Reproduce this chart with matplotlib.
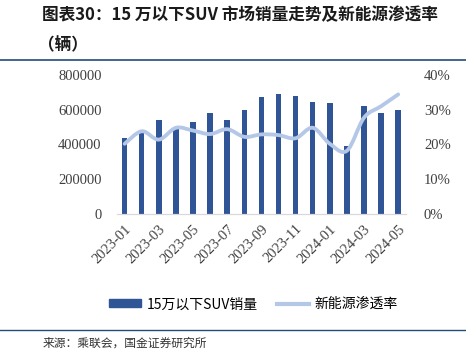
import matplotlib.pyplot as plt
import numpy as np
from matplotlib.path import Path
from matplotlib.patches import PathPatch
from matplotlib.lines import Line2D
from matplotlib.patches import Patch
from matplotlib.ticker import FuncFormatter

plt.rcParams['font.family'] = ['Noto Sans CJK SC', 'DejaVu Sans']

months = ['2023-01', '2023-02', '2023-03', '2023-04', '2023-05', '2023-06',
          '2023-07', '2023-08', '2023-09', '2023-10', '2023-11', '2023-12',
          '2024-01', '2024-02', '2024-03', '2024-04', '2024-05']
suv_sales = [435000, 478000, 541000, 499000, 528000, 583000, 541000, 597000,
             674000, 689000, 681000, 645000, 639000, 393000, 624000, 583000,
             597000]
nev_rate = [20.2, 23.8, 21.4, 24.8, 24.0, 23.0, 24.4, 22.2, 22.9, 22.7,
            21.8, 24.8, 20.2, 18.2, 27.7, 31.0, 34.4]

bar_color = '#2F5597'
line_color = '#B4C7E7'
serif = 'Liberation Serif'


def smooth_path(xs, ys, k=1 / 6):
    # excel-style smoothed line as cubic bezier segments
    xs = np.asarray(xs, float)
    ys = np.asarray(ys, float)
    n = len(xs)
    verts = [(xs[0], ys[0])]
    codes = [Path.MOVETO]
    for i in range(n - 1):
        p0 = max(i - 1, 0)
        p3 = min(i + 2, n - 1)
        c1 = (xs[i] + (xs[i + 1] - xs[p0]) * k, ys[i] + (ys[i + 1] - ys[p0]) * k)
        c2 = (xs[i + 1] - (xs[p3] - xs[i]) * k, ys[i + 1] - (ys[p3] - ys[i]) * k)
        verts += [c1, c2, (xs[i + 1], ys[i + 1])]
        codes += [Path.CURVE4] * 3
    return Path(verts, codes)


fig = plt.figure(figsize=(4.66, 3.55), dpi=100)
ax = fig.add_axes([0.251, 0.397, 0.62, 0.392])
x = np.arange(len(months))
ax.bar(x, suv_sales, width=0.32, color=bar_color, zorder=2)
ax.set_xlim(-0.45, len(months) - 0.55)
ax.set_ylim(0, 800000)
ax.set_yticks(range(0, 800001, 200000))
ax.yaxis.set_major_formatter(FuncFormatter(lambda v, p: '%d' % v))

ax2 = ax.twinx()
ax2.set_ylim(0, 40)
ax2.set_yticks(range(0, 41, 10))
ax2.yaxis.set_major_formatter(FuncFormatter(lambda v, p: '%d%%' % v))
ax2.add_patch(PathPatch(smooth_path(x, nev_rate), fill=False,
                        edgecolor=line_color, lw=2.75, capstyle='round', zorder=3))

for a in (ax, ax2):
    for s in ('top', 'left', 'right'):
        a.spines[s].set_visible(False)
    a.spines['bottom'].set_color('#D9D9D9')
    a.tick_params(length=0)
    for lab in a.get_yticklabels():
        lab.set_fontfamily(serif)
        lab.set_fontsize(10.5)
        lab.set_color('#404040')
ax.tick_params(axis='y', pad=11)
ax2.tick_params(axis='y', pad=13)

ax.set_xticks(x[::2])
ax.set_xticklabels(months[::2], rotation=45, ha='right', rotation_mode='anchor',
                   fontfamily=serif, fontsize=10.5, color='#404040')
ax.tick_params(axis='x', pad=6)

fig.text(0.09, 0.958, '图表30：15 万以下SUV 市场销量走势及新能源渗透率',
         fontsize=12, fontweight='bold', style='italic', color='#1a1a1a',
         ha='left', va='center')
fig.text(0.082, 0.873, '（辆）', fontsize=12, fontweight='bold',
         color='#1a1a1a', ha='left', va='center')
fig.add_artist(Line2D([0, 1], [0.831, 0.831], color='#1F4E79', lw=1.2))
fig.add_artist(Line2D([0, 1], [0.07, 0.07], color='#1F4E79', lw=1.0))
fig.text(0.092, 0.033, '来源：乘联会，国金证券研究所', fontsize=8.5,
         color='#333333', ha='left', va='center')

handles = [Patch(color=bar_color), Line2D([], [], color=line_color, lw=3)]
fig.legend(handles, ['15万以下SUV销量', '新能源渗透率'], loc='center',
           bbox_to_anchor=(0.544, 0.143), ncol=2, frameon=False, fontsize=10,
           handlelength=2.3, handleheight=0.5, columnspacing=1.35,
           handletextpad=0.4)

fig.savefig('out.png', dpi=100)
